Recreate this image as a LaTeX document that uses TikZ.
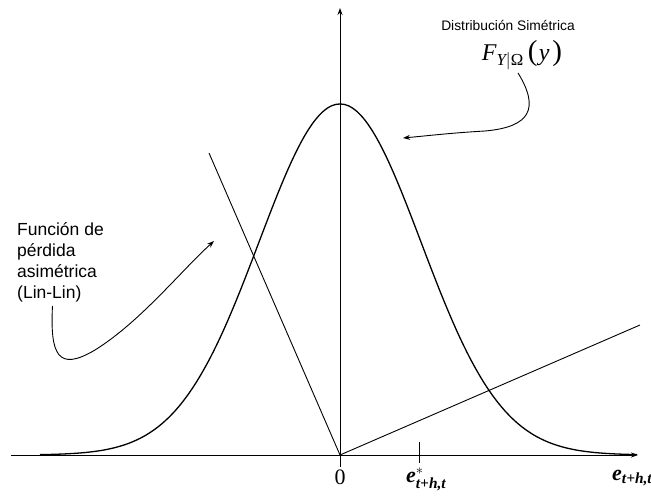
\documentclass[tikz,border=0pt]{standalone}
\usepackage{amsmath}
\usepackage{fontspec}
\setmainfont{Liberation Sans}
\newfontfamily\tms{Liberation Serif}
\usetikzlibrary{arrows.meta, positioning}
\newcommand{\ebold}{\text{\tms\bfseries\itshape e}}
\newcommand{\esub}{\text{\tms\bfseries\itshape t+h,t}}
\newcommand{\bigparen}[1]{\text{\tms\fontsize{29}{30}\selectfont #1}}
\tikzset{
	axis/.style     ={line width=1.0pt, -{Stealth[length=7pt, width=5pt]}},
	callout/.style  ={line width=0.9pt, -{Stealth[length=7pt, width=5pt]}},
	lossline/.style ={line width=0.9pt},
	density/.style  ={line width=1.3pt},
	lbl/.style      ={inner sep=0pt, align=left, font=\fontsize{17.5}{21}\selectfont},
	mathlbl/.style  ={inner sep=0pt, font=\fontsize{22}{26}\selectfont},
}
\begin{document}
\begin{tikzpicture}[x=1pt, y=-1pt]
	\useasboundingbox (0,0) rectangle (651,503);
	% axes
	\coordinate (xstart) at (11,455);
	\coordinate (xend) at (638,455);
	\coordinate (ybot) at (340,467);
	\coordinate (ytop) at (340,8);
	\coordinate (orig) at (340,455);
	\draw[axis] (xstart) -- (xend);
	\draw[axis] (ybot) -- (ytop);
	% symmetric density
	\draw[density] plot[domain=-3.0:2.97, samples=150, smooth] ({340+100*\x},{455-351*exp(-\x*\x/1.3122)});
	% lin-lin loss
	\coordinate (losstop) at (209,153);
	\coordinate (lossend) at (640,325);
	\draw[lossline] (losstop) -- (orig) -- (lossend);
	% optimal forecast tick
	\coordinate (estar) at (419,455);
	\draw[lossline] ([yshift=13pt]estar) -- ([yshift=-8pt]estar);
	% axis labels
	\node[mathlbl, anchor=base] (zero) at (340,484) {\tms 0};
	\node[mathlbl, anchor=base west] (estarlbl) at (406,482) {$\ebold^{*}_{\esub}$};
	\node[mathlbl, anchor=base west] (elbl) at (612,480) {$\ebold_{\esub}$};
	% distribution label
	\node[inner sep=0pt, anchor=base, font=\fontsize{13.8}{16}\selectfont] (dist) at (508,31) {Distribución Simétrica};
	\node[mathlbl, anchor=base, font=\fontsize{24}{28}\selectfont] (fdist) at (522,61)
		{$\text{\tms\itshape F}_{\text{\tms\itshape Y}|\text{\tms Ω}}\mkern3mu\bigparen{(}\mkern1mu\text{\tms\itshape y}\mkern2mu\bigparen{)}$};
	\coordinate (disttip) at (403,138);
	\draw[callout] ([xshift=-4pt, yshift=-3pt]fdist.south) .. controls +(22,36) and (530,127) .. (485,131)
		.. controls (450,133) and (425,136) .. (disttip);
	% loss label
	\node[lbl, anchor=north west] (loss) at (17,222) {Función de\\pérdida\\asimétrica\\(Lin-Lin)};
	\coordinate (losstip) at (214,241);
	\draw[callout] ([xshift=-8pt, yshift=-4pt]loss.south) .. controls (50,355) and (58,372) .. (95,350)
		.. controls (140,322) and (180,272) .. (losstip);
\end{tikzpicture}
\end{document}
